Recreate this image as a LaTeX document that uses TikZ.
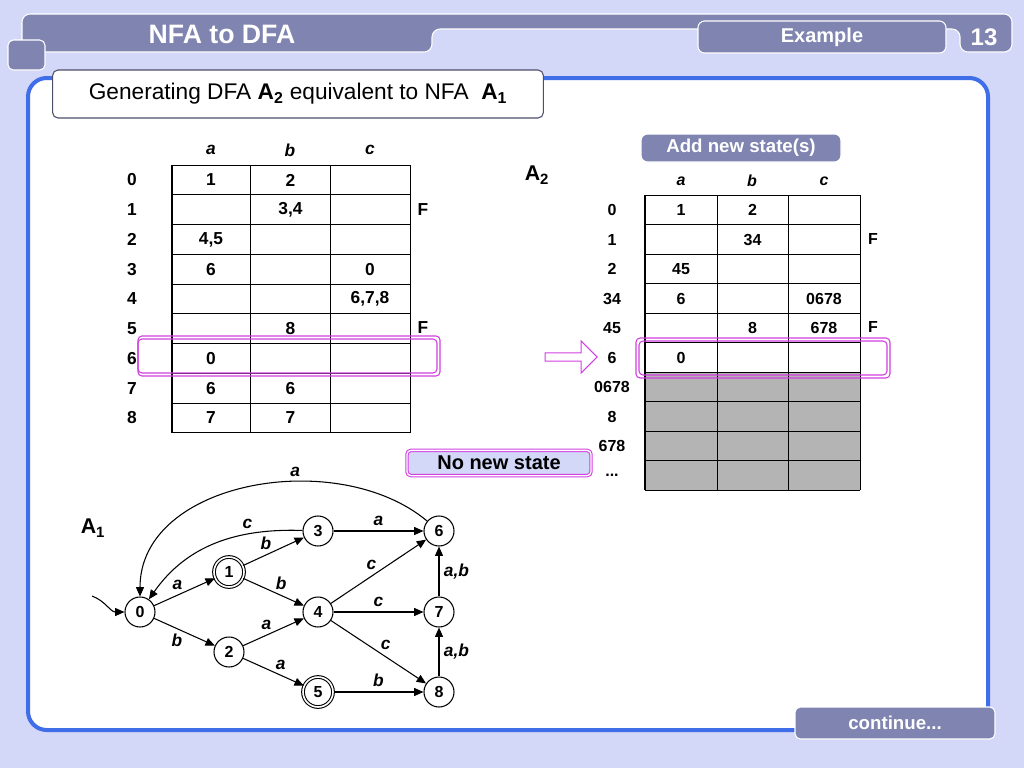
\documentclass[tikz,border=0pt]{standalone}
\usepackage{fontspec}
\setmainfont{Liberation Sans}
\usetikzlibrary{arrows.meta,shapes.arrows}
\definecolor{bg}{HTML}{D4D8F8}
\definecolor{slate}{HTML}{7F84B0}
\definecolor{pblue}{HTML}{3F6EE8}
\definecolor{mag}{HTML}{D040E0}
\definecolor{gcell}{HTML}{B4B4B4}
\begin{document}
\begin{tikzpicture}[x=0.75pt,y=-0.75pt,
  st/.style={circle,draw,thick,fill=white,minimum size=22.5pt,inner sep=0pt,font=\bfseries\fontsize{12}{12}\selectfont},
  acc/.style={st,double,double distance=1.2pt},
  tr/.style={-{Triangle[length=7pt,width=6pt]},thick},
  lb/.style={font=\bfseries\itshape\fontsize{13}{13}\selectfont},
  tx/.style={font=\bfseries\fontsize{12}{12}\selectfont},
  hi/.style={draw=mag,thick,rounded corners=3pt},
  tab/.style={font=\bfseries\fontsize{13}{13}\selectfont}]
\useasboundingbox (0,0) rectangle (1024,768);
\fill[bg] (0,0) rectangle (1024,768);
% header
\draw[white,thick,fill=slate,rounded corners=6pt] (22,14) -- (1012,14) -- (1012,52) -- (960,52) -- (960,29) -- (432,29) -- (432,52) -- (22,52) -- cycle;
\node[font=\bfseries\fontsize{20}{20}\selectfont,text=white] (title) at (222,34) {NFA to DFA};
\node[draw=white,thick,fill=slate,rounded corners=5pt,minimum width=186pt,minimum height=24pt] (ex) at (822,37) {};
\node[font=\bfseries\fontsize{15}{15}\selectfont,text=white] at (ex) {Example};
\node[font=\bfseries\fontsize{18}{18}\selectfont,text=white] (num) at (984,37) {13};
\draw[white,thick,fill=slate,rounded corners=4pt] (8,40) rectangle (45,70);
% panel
\draw[pblue,line width=3pt,fill=white,rounded corners=14pt] (28,78) rectangle (988,730);
\node[draw=slate!60!black,thick,fill=white,rounded corners=4pt,minimum width=368pt,minimum height=36pt] (sub) at (298,94) {};
\node[font=\fontsize{17}{17}\selectfont] at (sub) {Generating DFA \textbf{A\textsubscript{2}} equivalent to NFA \ \textbf{A\textsubscript{1}}};
% left table
\foreach \x/\t in {211/a,290/b,370/c} \node[lb] at (\x,150) {\t};
\foreach \i in {0,...,8} \node[tab] at (132,180+29.75*\i) {\i};
\foreach \i in {0,...,9} \draw (172,165+29.75*\i) -- (410,165+29.75*\i);
\draw[line width=1.5pt] (172,165) -- (172,432.75);
\foreach \x in {250,330,410} \draw (\x,165) -- (\x,432.75);
\foreach \r/\c/\t in {0/0/1,0/1/2,1/1/{3,4},2/0/{4,5},3/0/6,3/2/0,4/2/{6,7,8},5/1/8,6/0/0,7/0/6,7/1/6,8/0/7,8/1/7}
  \node[tab] at (211+79.5*\c,180+29.75*\r) {\t};
\node[tab] at (423,210) {F};
\node[tab] at (423,328) {F};
% right table
\node[font=\bfseries\fontsize{16}{16}\selectfont] (A2) at (537,175) {A\textsubscript{2}};
\node[fill=slate,draw=white,thick,rounded corners=5pt,minimum width=150pt,minimum height=21pt] (add) at (741,148) {};
\node[font=\bfseries\fontsize{14}{14}\selectfont,text=white] at (add) {Add new state(s)};
\foreach \x/\t in {681/a,752/b,824/c} \node[lb,font=\bfseries\itshape\fontsize{12}{12}\selectfont] at (\x,181) {\t};
\fill[gcell] (645,372) rectangle (860,490);
\foreach \i/\t in {0/0,1/1,2/2,3/34,4/45,5/6,6/0678,7/8,8/678,9/{...}} \node[tx] at (612,210+29.5*\i) {\t};
\foreach \i in {0,...,10} \draw (645,195+29.5*\i) -- (860,195+29.5*\i);
\draw[line width=1.5pt] (645,195) -- (645,490);
\foreach \x in {717,788,860} \draw (\x,195) -- (\x,490);
\foreach \r/\c/\t in {0/0/1,0/1/2,1/1/34,2/0/45,3/0/6,3/2/0678,4/1/8,4/2/678,5/0/0}
  \node[tx] at (681+71.5*\c,210+29.5*\r) {\t};
\node[tx] at (873,239) {F};
\node[tx] at (873,327) {F};
% highlights
\draw[hi] (138,336) rectangle (440,376);
\draw[hi] (138,339) rectangle (437,373);
\draw[hi] (636,338) rectangle (890,378);
\draw[hi] (639,341) rectangle (887,375);
\node[single arrow,draw=mag,thick,fill=white,minimum height=39pt,minimum width=24pt,single arrow head extend=4pt,inner sep=1pt] (arr) at (569,357) {};
\node[draw=mag,thick,double,double distance=1pt,fill=bg,rounded corners=3pt,minimum width=138pt,minimum height=19pt] (nn) at (499,463) {};
\node[font=\bfseries\fontsize{15}{15}\selectfont] at (nn) {No new state};
% NFA
\node[font=\bfseries\fontsize{16}{16}\selectfont] (A1) at (93,528) {A\textsubscript{1}};
\node[st] (n0) at (140,612) {0};
\node[acc] (n1) at (229,572) {1};
\node[st] (n3) at (318,531) {3};
\node[st] (n6) at (439,531) {6};
\node[st] (n4) at (318,612) {4};
\node[st] (n7) at (439,612) {7};
\node[st] (n2) at (229,652) {2};
\node[acc] (n5) at (318,692) {5};
\node[st] (n8) at (439,692) {8};
\coordinate (in) at (92,596);
\draw[tr] (in) to[out=-20,in=180] (n0);
\draw[tr] (n0) -- node[lb,above left=-2pt] {a} (n1);
\draw[tr] (n0) -- node[lb,below left=-2pt] {b} (n2);
\draw[tr] (n1) -- node[lb,above left=-2pt] {b} (n3);
\draw[tr] (n1) -- node[lb,above right=-2pt] {b} (n4);
\draw[tr] (n2) -- node[lb,above left=-2pt] {a} (n4);
\draw[tr] (n2) -- node[lb,above right=-2pt] {a} (n5);
\draw[tr] (n3) -- node[lb,above] {a} (n6);
\draw[tr] (n4) -- node[lb,above left=-2pt] {c} (n6);
\draw[tr] (n4) -- node[lb,above] {c} (n7);
\draw[tr] (n4) -- node[lb,above right=-2pt] {c} (n8);
\draw[tr] (n5) -- node[lb,above] {b} (n8);
\draw[tr] (n7) -- node[lb,right] {a,b} (n6);
\draw[tr] (n8) -- node[lb,right] {a,b} (n7);
\draw[tr] (n3) to[out=178,in=55] node[lb,above,pos=0.3] {c} (n0);
\draw[tr] (n6) to[out=140,in=90] node[lb,above,pos=0.38] {a} (n0);
% footer
\node[fill=slate,draw=white,thick,rounded corners=4pt,minimum width=150pt,minimum height=24pt] (cont) at (895,723) {};
\node[font=\bfseries\fontsize{14}{14}\selectfont,text=white] at (cont) {continue...};
\end{tikzpicture}
\end{document}
